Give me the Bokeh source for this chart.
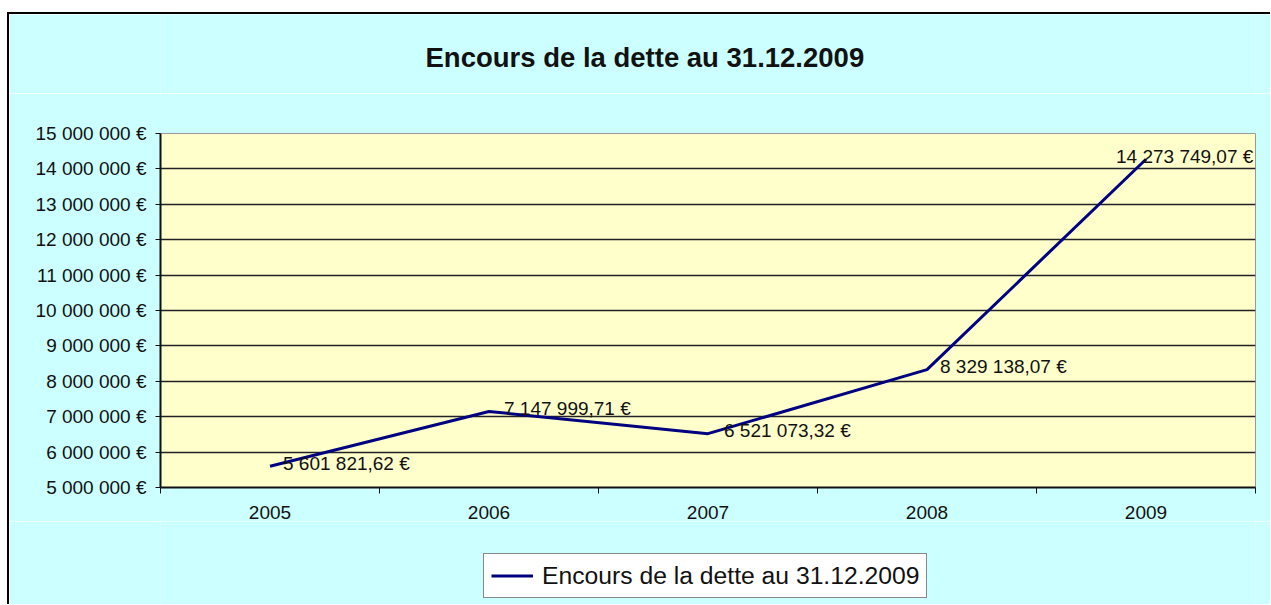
from bokeh.plotting import figure
from bokeh.layouts import column
from bokeh.models import (ColumnDataSource, FixedTicker, LabelSet, Label, Legend,
                          LegendItem, Range1d)
from bokeh.core.properties import value
from bokeh.embed import file_html
from bokeh.resources import INLINE

# ---- data ----
years = ["2005", "2006", "2007", "2008", "2009"]
debt = [5601821.62, 7147999.71, 6521073.32, 8329138.07, 14273749.07]
y_ticks = [5000000, 6000000, 7000000, 8000000, 9000000, 10000000,
           11000000, 12000000, 13000000, 14000000, 15000000]
y_tick_labels = ["5 000 000 €", "6 000 000 €", "7 000 000 €", "8 000 000 €",
                 "9 000 000 €", "10 000 000 €", "11 000 000 €", "12 000 000 €",
                 "13 000 000 €", "14 000 000 €", "15 000 000 €"]
title_text = "Encours de la dette au 31.12.2009"
series_name = "Encours de la dette au 31.12.2009"


def fr(v):
    s = f"{v:,.2f}".replace(",", " ").replace(".", ",")
    return s + " €"


FONT = "Liberation Sans"
CYAN = "#CCFFFF"
W = 1261
xs = [i + 0.5 for i in range(len(years))]
label_dx = [13, 15, 16, 13, -30]

src = ColumnDataSource(dict(x=xs, y=debt, label=[fr(v) for v in debt], dx=label_dx))

# ---------------- title strip ----------------
T_H = 79
t = figure(width=W, height=T_H, x_range=Range1d(0, 1095), y_range=Range1d(0, T_H),
           output_backend="svg", toolbar_location=None,
           x_axis_location=None, y_axis_location=None,
           min_border=0, background_fill_color=CYAN, border_fill_color=CYAN,
           outline_line_color=None)
t.title.visible = False
t.xgrid.visible = False
t.ygrid.visible = False
t.add_layout(Label(x=265, y=36, text=title_text,
                   text_align="left", text_baseline="middle",
                   text_font=FONT, text_font_size="27.5px",
                   text_font_style="bold", text_color="#111111"))

# ---------------- main chart ----------------
p = figure(width=W, height=428,
           x_range=Range1d(0, len(years)), y_range=Range1d(y_ticks[0], y_ticks[-1]),
           output_backend="svg", toolbar_location=None,
           min_border_left=151, min_border_right=15,
           min_border_top=40, min_border_bottom=34,
           background_fill_color="#FFFFCC", border_fill_color=CYAN,
           outline_line_color="#999999", outline_line_width=1)
p.title.visible = False

# y axis
p.yaxis.ticker = FixedTicker(ticks=y_ticks)
p.yaxis.major_label_overrides = dict(zip(y_ticks, y_tick_labels))
p.yaxis.major_tick_out = 5
p.yaxis.major_tick_in = 0
p.yaxis.minor_tick_line_color = None
p.yaxis.axis_line_width = 2
p.yaxis.axis_line_color = "#111111"
p.yaxis.major_tick_line_color = "#111111"
p.yaxis.major_tick_line_width = 1
p.yaxis.major_label_standoff = 9
p.yaxis.major_label_text_font = FONT
p.yaxis.major_label_text_font_size = "19px"
p.yaxis.major_label_text_color = "#111111"

# x axis
p.xaxis.ticker = FixedTicker(ticks=xs, minor_ticks=list(range(len(years) + 1)))
p.xaxis.major_label_overrides = dict(zip(xs, years))
p.xaxis.major_tick_out = 0
p.xaxis.major_tick_in = 0
p.xaxis.minor_tick_out = 6
p.xaxis.minor_tick_in = 0
p.xaxis.minor_tick_line_color = "#111111"
p.xaxis.minor_tick_line_width = 1
p.xaxis.axis_line_width = 2
p.xaxis.axis_line_color = "#111111"
p.xaxis.major_label_standoff = 12
p.xaxis.major_label_text_font = FONT
p.xaxis.major_label_text_font_size = "19px"
p.xaxis.major_label_text_color = "#111111"

# grid
p.xgrid.visible = False
p.ygrid.ticker = FixedTicker(ticks=y_ticks[1:-1])
p.ygrid.grid_line_color = "#222222"
p.ygrid.grid_line_width = 1.5

# series
r = p.line("x", "y", source=src, line_color="#000080", line_width=3)

labels = LabelSet(x="x", y="y", text="label", source=src, x_offset="dx", y_offset=3,
                  text_baseline="middle", text_align="left",
                  text_font=value(FONT), text_font_size="19px", text_color="#111111")
p.add_layout(labels)

# ---------------- legend strip ----------------
q = figure(width=W, height=83, x_range=Range1d(100, 101), y_range=Range1d(0, 1),
           output_backend="svg", toolbar_location=None,
           x_axis_location=None, y_axis_location=None,
           min_border=0, background_fill_color=CYAN, border_fill_color=CYAN,
           outline_line_color=None)
q.title.visible = False
q.xgrid.visible = False
q.ygrid.visible = False
r2 = q.line("x", "y", source=src, line_color="#000080", line_width=3)

legend = Legend(items=[LegendItem(label=series_name, renderers=[r2])],
                location=(323, 6), margin=0, padding=7,
                border_line_color="#111111", border_line_width=1,
                background_fill_color="white", background_fill_alpha=1,
                label_text_font=FONT, label_text_font_size="24.7px",
                label_text_color="#111111",
                glyph_width=42, glyph_height=29, label_height=29,
                label_standoff=9)
q.add_layout(legend, "center")

layout = column(t, p, q, spacing=0)
layout.styles = {"border-left": "2px solid black", "border-top": "2px solid black",
                 "margin-top": "12px", "margin-left": "7px"}

open("out.html", "w").write(file_html(layout, INLINE))
